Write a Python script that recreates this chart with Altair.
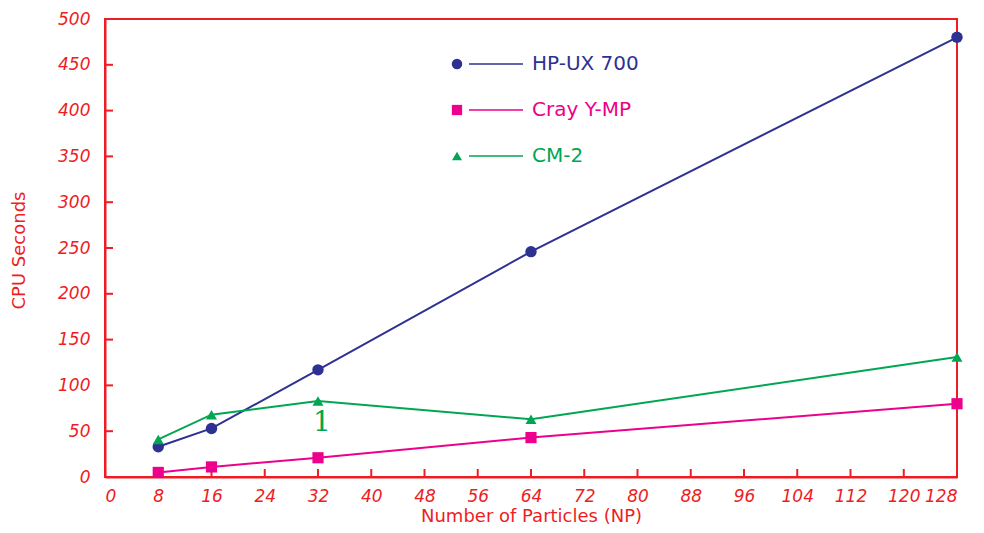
import altair as alt
import pandas as pd

# ---- data ----
np_values = [8, 16, 32, 64, 128]
hp_ux_700 = [33, 53, 117, 246, 480]
cray_ymp = [5, 11, 21, 43, 80]
cm_2 = [41, 68, 83, 63, 131]

series_names = ["HP-UX 700", "Cray Y-MP", "CM-2"]
series_colors = ["#2E3192", "#EC008C", "#00A651"]
series_shapes = ["circle", "square", "triangle-up"]

x_ticks = list(range(0, 129, 8))
y_ticks = list(range(0, 501, 50))

ann_x = [32.6]
ann_y = [59]
ann_text = ["1"]

RED = "#EE1D23"

rows = []
for name, vals in zip(series_names, [hp_ux_700, cray_ymp, cm_2]):
    for n, v in zip(np_values, vals):
        rows.append({"series": name, "np": n, "cpu": v})
df = pd.DataFrame(rows)

ann_df = pd.DataFrame({"np": ann_x, "cpu": ann_y, "label": ann_text})
leg_df = pd.DataFrame({"series": series_names, "row": list(range(len(series_names)))})
xt_df = pd.DataFrame({"np": x_ticks})
yt_df = pd.DataFrame({"cpu": y_ticks})

color_scale = alt.Scale(domain=series_names, range=series_colors)
shape_scale = alt.Scale(domain=series_names, range=series_shapes)
xs = alt.Scale(domain=[0, 128], nice=False, zero=True)
ys = alt.Scale(domain=[0, 500], nice=False, zero=True)

x_axis = alt.Axis(
    values=x_ticks, ticks=False, tickSize=0, grid=False,
    domainColor=RED, domainWidth=2,
    labelColor=RED, labelFont="DejaVu Sans", labelFontSize=17,
    labelFontStyle="italic", labelPadding=11,
    title="Number of Particles (NP)", titleFont="DejaVu Sans",
    titleFontSize=18, titleFontWeight="normal", titleColor=RED,
    titleY=44, titleBaseline="alphabetic",
)
y_axis = alt.Axis(
    values=y_ticks, ticks=False, tickSize=0, grid=False,
    domainColor=RED, domainWidth=2,
    labelColor=RED, labelFont="DejaVu Sans", labelFontSize=17,
    labelFontStyle="italic", labelPadding=15, labelBaseline="middle",
    title="CPU Seconds", titleFont="DejaVu Sans",
    titleFontSize=18, titleFontWeight="normal", titleColor=RED,
    titleX=-86, titleY=231, titleAlign="center", titleBaseline="middle",
    titleAngle=270,
)

X = alt.X("np:Q", scale=xs, axis=x_axis)
Y = alt.Y("cpu:Q", scale=ys, axis=y_axis)
C = alt.Color("series:N", scale=color_scale, legend=None)
S = alt.Shape("series:N", scale=shape_scale, legend=None)
SZ = alt.Size("series:N", scale=alt.Scale(domain=series_names, range=[130, 120, 170]), legend=None)
SZL = alt.Size("series:N", scale=alt.Scale(domain=series_names, range=[110, 100, 150]), legend=None)

base = alt.Chart(df)
lines = base.mark_line(strokeWidth=2).encode(x=X, y=Y, color=C)
points = base.mark_point(filled=True, opacity=1).encode(x=X, y=Y, color=C, shape=S, size=SZ)

ann = alt.Chart(ann_df).mark_text(
    font="DejaVu Serif", fontSize=28, color="#00A651", baseline="middle", align="center"
).encode(x=X, y=Y, text="label:N")

# inward tick marks placed through the scales
x_tick_marks = alt.Chart(xt_df).mark_rule(color=RED, strokeWidth=2).encode(
    x=X, y=alt.value(458), y2=alt.value(450))
y_tick_marks = alt.Chart(yt_df).mark_rule(color=RED, strokeWidth=2).encode(
    y=Y, x=alt.value(0), x2=alt.value(8))

# custom legend inside the plot
leg_base = alt.Chart(leg_df).transform_calculate(py="45 + datum.row * 46")
LY = alt.Y("py:Q", scale=None, axis=None)
leg_pts = leg_base.mark_point(filled=True, opacity=1).encode(
    x=alt.value(352), y=LY, color=C, shape=S, size=SZL)
leg_lines = leg_base.mark_rule(strokeWidth=1.6).encode(
    x=alt.value(364), x2=alt.value(418), y=LY, color=C)
leg_text = leg_base.mark_text(
    align="left", baseline="middle", font="DejaVu Sans", fontSize=20
).encode(x=alt.value(427), y=LY, text="series:N", color=C)

chart = alt.layer(
    x_tick_marks, y_tick_marks, lines, points, ann, leg_lines, leg_pts, leg_text
).resolve_scale(size="independent").properties(
    width=852, height=458,
    padding={"left": 97, "top": 11, "right": 19, "bottom": 48},
    autosize=alt.AutoSizeParams(type="none"),
    background="white",
).configure_view(stroke=RED, strokeWidth=2)

chart.save("out.html", embed_options={"renderer": "svg", "actions": False})
